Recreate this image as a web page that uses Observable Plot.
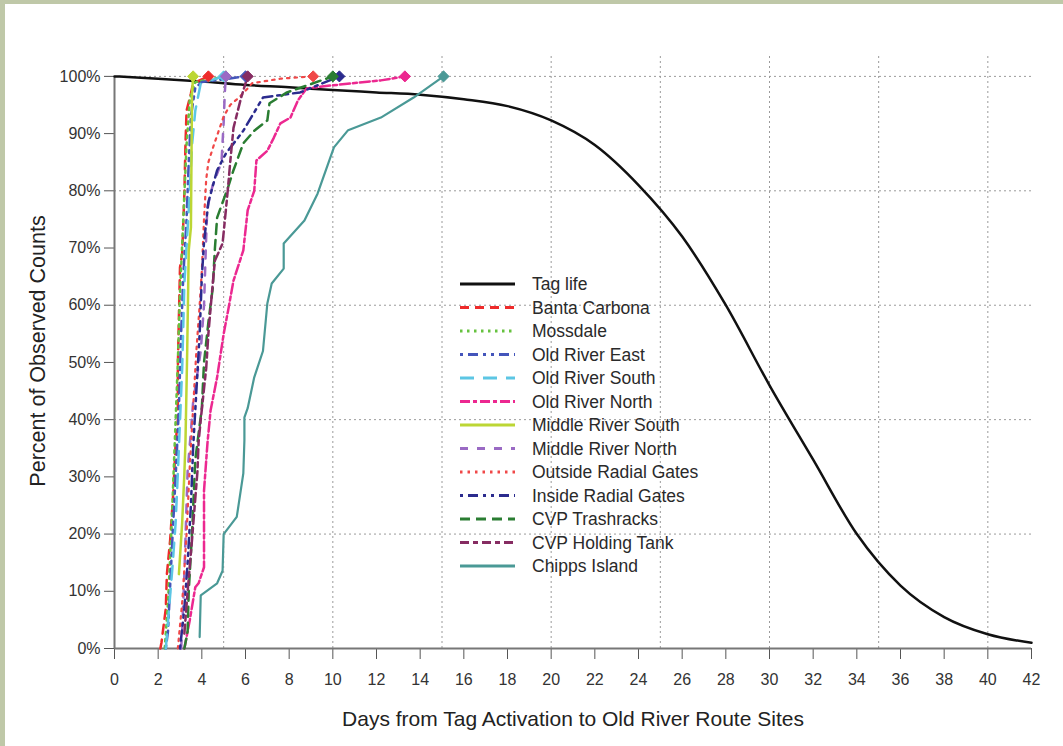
<!DOCTYPE html>
<html>
<head>
<meta charset="utf-8">
<script src="https://cdn.jsdelivr.net/npm/d3@7"></script>
<script src="https://cdn.jsdelivr.net/npm/@observablehq/plot@0.6"></script>
<style>
  html, body { margin: 0; padding: 0; background: #fff; }
  #wrap { position: relative; width: 1063px; height: 746px; overflow: hidden; }
  #topband { position: absolute; left: 0; top: 0; width: 1063px; height: 4px; background: #bfc8a8; }
  #leftband { position: absolute; left: 0; top: 0; width: 5px; height: 746px; background: #bfc8a8; }
</style>
</head>
<body>
<div id="wrap"><div id="chart"></div><div id="topband"></div><div id="leftband"></div></div>
<script>
// ---------- data (day, percent of observed counts) ----------
const tagLife = [[0,100],[2,99.6],[4,99.1],[6,98.5],[8,98.1],[10,97.6],[12,97.2],[14,96.8],[16,96.0],[18,94.8],[20,92.3],[22,88.0],[24,81.0],[26,72.0],[28,60.0],[30,46.0],[32,33.0],[34,20.0],[36,11.0],[38,5.5],[40,2.5],[42,1.0]];
const bantaCarbona = [[2.1,0],[2.15,1],[2.35,7],[2.4,13],[2.55,19],[2.7,27.6],[2.8,36],[2.9,40],[2.9,49],[2.95,58],[3.0,66.6],[3.1,69],[3.2,79.5],[3.25,88],[3.3,94],[3.5,97],[3.6,98.8],[4.3,100]];
const mossdale = [[2.3,0],[2.45,8],[2.6,20],[2.75,35],[2.9,50],[3.0,62],[3.15,75],[3.3,88],[3.45,96],[3.7,99],[5.1,100]];
const oldRiverEast = [[2.35,0],[2.45,3],[2.65,19],[2.8,30],[2.95,42],[3.05,55],[3.15,65],[3.3,75],[3.4,85],[3.5,93],[3.7,98],[4.0,99],[6.0,100]];
const oldRiverSouth = [[2.35,0],[2.5,7],[2.65,14],[2.8,22],[2.9,30.6],[3.1,49],[3.2,63.8],[3.4,76.6],[3.55,88],[3.7,94],[3.95,98.8],[5.0,100]];
const oldRiverNorth = [[3.2,0],[3.45,5],[3.7,10.7],[3.85,11.4],[4.1,14.2],[4.1,27.6],[4.26,36],[4.4,41.6],[4.7,47.4],[5.0,55],[5.2,59],[5.45,64.3],[5.9,69.6],[6.1,76.6],[6.4,80],[6.5,85.3],[7.0,87],[7.3,89.3],[7.6,91.8],[8.06,92.8],[8.4,95.8],[8.8,97.9],[9.9,98.4],[12.2,99.3],[13.3,100]];
const middleRiverSouth = [[2.95,13],[3.1,22],[3.2,30.6],[3.25,36],[3.33,52],[3.4,69.6],[3.5,73.6],[3.55,97],[3.6,100]];
const middleRiverNorth = [[3.05,0],[3.1,3],[3.2,13],[3.35,31],[3.5,38],[3.6,43],[3.95,52],[4.1,60],[4.2,72],[4.25,77],[4.5,81],[4.9,85],[5.0,92],[5.05,97],[5.1,100]];
const outsideRadialGates = [[2.9,0],[3.1,8],[3.3,20],[3.45,32],[3.6,42],[3.75,52],[3.9,60],[4.0,66],[4.1,75],[4.2,82],[4.3,85],[4.55,88],[5.0,93],[5.3,95],[5.7,96.3],[6.1,97.9],[6.3,98.8],[7.6,99.6],[9.1,100]];
const insideRadialGates = [[3.0,0],[3.2,7],[3.35,15],[3.5,25],[3.6,35],[3.75,45],[3.9,55],[4.0,65],[4.1,71],[4.3,78],[4.7,83.6],[5.1,86.5],[5.9,90.5],[6.8,96.3],[8.5,97.2],[10.3,100]];
const cvpTrashracks = [[3.2,0],[3.35,3],[3.4,10],[3.55,20],[3.7,33],[4.0,42],[4.1,50],[4.3,57],[4.5,63],[4.6,70],[4.7,75.3],[5.2,80.6],[5.45,83.6],[5.9,88.3],[6.4,90.5],[7.0,92.3],[7.1,95.3],[7.9,97.2],[10.0,100]];
const cvpHoldingTank = [[3.2,2.6],[3.35,10],[3.55,19],[3.8,31],[3.85,36],[3.95,40],[4.2,49],[4.3,55],[4.5,63.8],[4.6,67.8],[4.95,70.8],[5.1,76.6],[5.2,80.6],[5.3,85],[5.45,91],[5.8,96.3],[6.1,100]];
const chippsIsland = [[3.9,2],[3.95,9.3],[4.7,11.4],[4.95,13.6],[5.0,20],[5.6,23],[5.9,30.6],[5.95,36.4],[5.95,40.4],[6.1,42],[6.4,47.4],[6.8,52],[7.0,60.3],[7.2,63.8],[7.75,66.4],[7.75,70.8],[8.7,74.8],[9.3,79.5],[10.05,87.6],[10.7,90.6],[12.2,92.8],[13.7,96.3],[15.07,100]];

const seriesNames = ["Tag life","Banta Carbona","Mossdale","Old River East","Old River South","Old River North","Middle River South","Middle River North","Outside Radial Gates","Inside Radial Gates","CVP Trashracks","CVP Holding Tank","Chipps Island"];
const seriesData = [tagLife, bantaCarbona, mossdale, oldRiverEast, oldRiverSouth, oldRiverNorth, middleRiverSouth, middleRiverNorth, outsideRadialGates, insideRadialGates, cvpTrashracks, cvpHoldingTank, chippsIsland];

const xTicks = [0,2,4,6,8,10,12,14,16,18,20,22,24,26,28,30,32,34,36,38,40,42];
const yTicks = [0,10,20,30,40,50,60,70,80,90,100];
const xGrid = [5,10,15,20,25,30,35,40];
const yGrid = [20,40,60,80,100];
const xTitle = "Days from Tag Activation to Old River Route Sites";
const yTitle = "Percent of Observed Counts";

// ---------- styles ----------
const colors = ["#111111","#ee2b2b","#66c23f","#4455bb","#5cc6e4","#ec2890","#bcd634","#9a6ac4","#f04848","#2b2b8e","#2a7d32","#862c62","#4a9996"];
const dashes = [null,"9,6","2.5,4.5","3,5,10,5,3,5","14,9","10,3,4,3",null,"8,9","2.5,5","3,5,10,5,3,5","10,6","9,4,5,4",null];
const widths = [2.5,2.5,2.5,2.5,2.5,2.5,2.5,2.5,2.2,2.5,2.5,2.5,2.2];

const toRows = (arr) => arr.map(([day, pct]) => ({day, pct}));

const marks = [
  Plot.ruleX(xGrid, {y1: 0, y2: 104, stroke: "#9a9a9a", strokeDasharray: "2,3", strokeWidth: 1}),
  Plot.ruleY(yGrid, {x1: 0, x2: 42, stroke: "#9a9a9a", strokeDasharray: "2,3", strokeWidth: 1}),
  Plot.axisX({ticks: xTicks, tickSize: 11, tickPadding: 14, tickFormat: d => String(d), label: null, stroke: "#555", fontSize: 16}),
  Plot.axisY({ticks: yTicks, tickSize: 10, tickPadding: 4, tickFormat: d => d + "%", label: null, stroke: "#555", fontSize: 16}),
  Plot.ruleX([0], {y1: 0, y2: 100, stroke: "#777", strokeWidth: 2}),
  Plot.ruleY([0], {x1: 0, x2: 42, stroke: "#777", strokeWidth: 2}),
];

seriesData.forEach((arr, i) => {
  const opts = {x: "day", y: "pct", stroke: colors[i], strokeWidth: widths[i], curve: i === 0 ? "monotone-x" : "linear"};
  if (dashes[i]) opts.strokeDasharray = dashes[i];
  marks.push(Plot.line(toRows(arr), opts));
});
seriesData.forEach((arr, i) => {
  if (i === 0) return;
  const last = arr[arr.length - 1];
  marks.push(Plot.dot([{day: last[0], pct: last[1]}], {x: "day", y: "pct", symbol: "diamond2", r: 5, fill: colors[i], stroke: colors[i], strokeWidth: 1}));
});

marks.push(Plot.text([xTitle], {text: d => d, frameAnchor: "bottom", dy: 71, textAnchor: "middle", lineAnchor: "middle", fontSize: 21, fill: "#222"}));
marks.push(Plot.text([yTitle], {text: d => d, frameAnchor: "left", dx: -76, rotate: -90, textAnchor: "middle", lineAnchor: "middle", fontSize: 21.5, fill: "#222"}));

const chart = Plot.plot({
  width: 1063,
  height: 746,
  marginLeft: 114,
  marginRight: 32,
  marginTop: 53,
  marginBottom: 98,
  x: {domain: [0, 42]},
  y: {domain: [0, 104]},
  style: {fontFamily: "'Liberation Sans', Arial, sans-serif", fontSize: "16px", color: "#333", background: "#fff"},
  marks
});

// ---------- legend ----------
const svg = d3.select(chart);
const lg = svg.append("g")
  .attr("font-family", "'Liberation Sans', Arial, sans-serif")
  .attr("font-size", 17.5)
  .attr("fill", "#2a2a2a")
  .attr("text-anchor", "start");
seriesNames.forEach((name, i) => {
  const y = 284 + i * 23.5;
  const ln = lg.append("line").attr("x1", 460).attr("x2", 515).attr("y1", y).attr("y2", y)
    .attr("stroke", colors[i]).attr("stroke-width", 3);
  if (dashes[i]) ln.attr("stroke-dasharray", dashes[i]);
  lg.append("text").attr("x", 532).attr("y", y).attr("dy", "0.35em").attr("text-anchor", "start").text(name);
});

document.getElementById("chart").appendChild(chart);
</script>
</body>
</html>
